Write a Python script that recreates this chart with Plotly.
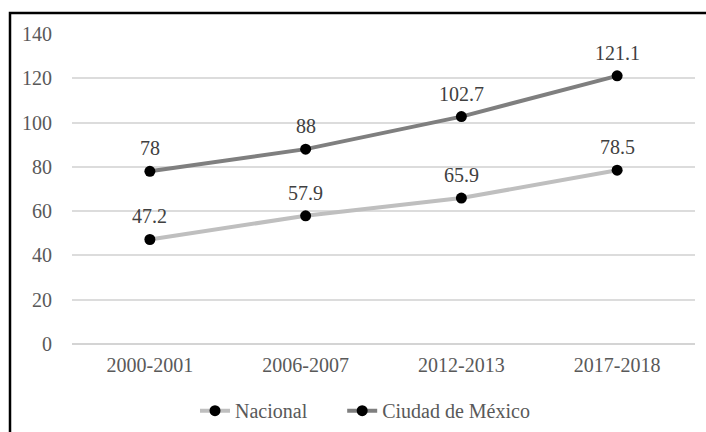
import plotly.graph_objects as go

categories = ["2000-2001", "2006-2007", "2012-2013", "2017-2018"]
nacional = [47.2, 57.9, 65.9, 78.5]
cdmx = [78, 88, 102.7, 121.1]
y_ticks = [0, 20, 40, 60, 80, 100, 120, 140]

FONT = "'Times New Roman', 'Liberation Serif', 'DejaVu Serif', serif"
TXT = "#595959"

fig = go.Figure()
for name, vals, color in [("Nacional" + "\u00a0" * 6, nacional, "#BFBFBF"),
                          ("Ciudad de México", cdmx, "#7F7F7F")]:
    fig.add_trace(go.Scatter(
        x=categories, y=vals, name=name, mode="lines+markers",
        line=dict(color=color, width=4),
        marker=dict(color="black", size=11),
    ))
    for c, v in zip(categories, vals):
        fig.add_annotation(x=c, y=v, text=str(v), showarrow=False,
                           yanchor="bottom", yshift=10,
                           font=dict(family=FONT, size=20, color="#404040"))

fig.update_layout(
    width=706, height=432,
    margin=dict(l=72, r=11, t=34, b=88, autoexpand=False),
    paper_bgcolor="white", plot_bgcolor="white",
    font=dict(family=FONT, size=20, color=TXT),
    showlegend=True,
    legend=dict(orientation="h", x=(195 - 72) / 623, xanchor="left", y=-0.215, yanchor="middle",
                font=dict(family=FONT, size=20, color=TXT),
                traceorder="normal", itemwidth=30),
    xaxis=dict(type="category", range=[-0.5, 3.5], showgrid=False, showline=False,
               ticks="", ticklabelstandoff=7,
               tickfont=dict(family=FONT, size=20, color=TXT)),
    yaxis=dict(range=[0, 140], tickvals=y_ticks, showgrid=True, gridcolor="#DCDCDC",
               gridwidth=1.5, zeroline=True, zerolinecolor="#D4D4D4", zerolinewidth=2,
               showline=False, ticks="", ticklabelstandoff=19,
               tickfont=dict(family=FONT, size=20, color=TXT)),
    shapes=[dict(type="rect", xref="paper", yref="paper",
                 x0=(10 - 72) / 623, x1=1.2, y0=-0.6, y1=(344 - 13) / 310,
                 line=dict(color="black", width=2.5), fillcolor="rgba(0,0,0,0)",
                 layer="below")],
)

fig.write_html("out.html")
